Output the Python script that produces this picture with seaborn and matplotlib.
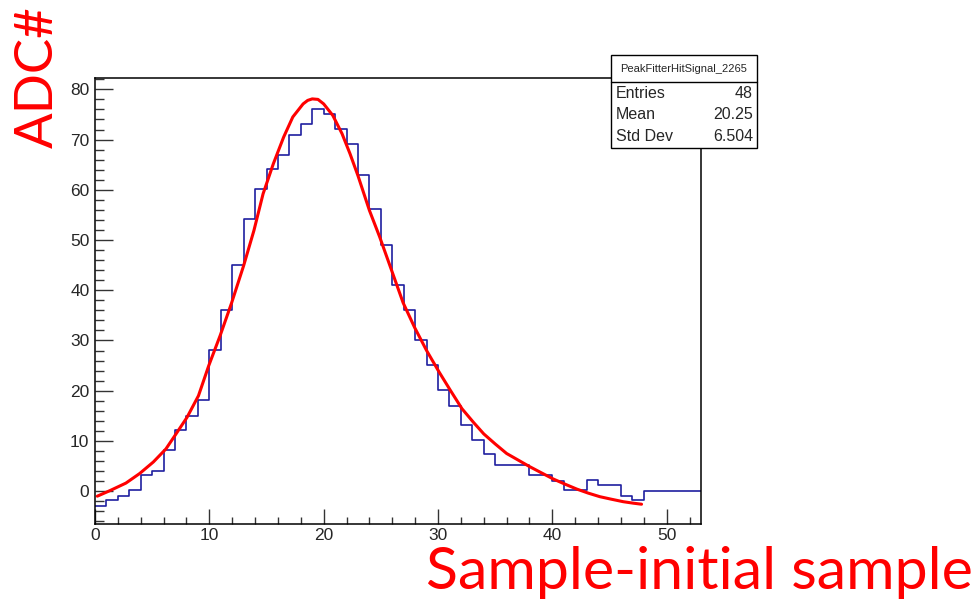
import matplotlib
matplotlib.use('Agg')

import numpy as np
import pandas as pd
import seaborn as sns
import matplotlib.pyplot as plt
from matplotlib.patches import Rectangle
from matplotlib.ticker import MultipleLocator

# histogram: one value per unit bin, starting at 0
bin_counts = [-2.9, -1.75, -0.9, 0.2, 3.2, 4.1, 8.1, 12.1, 15.0, 18.2,
              28.1, 36.1, 45.1, 54.1, 60.1, 64.1, 67.0, 71.0, 73.1, 76.0,
              75.1, 72.1, 69.2, 63.0, 56.1, 49.1, 41.1, 36.1, 30.1, 25.1,
              20.2, 17.0, 13.2, 10.1, 7.3, 5.2, 5.2, 5.2, 3.2, 3.2,
              2.1, 0.2, 0.2, 2.2, 1.2, 1.2, -0.9, -1.75, 0, 0,
              0, 0, 0]

# fitted curve
fit_x = [0.2, 1.3, 2.7, 3.9, 5.1, 6.2, 7.0, 8.05, 9.05, 9.95,
         10.95, 11.95, 13.0, 13.9, 14.7, 15.6, 16.5, 17.3, 18.2, 18.6,
         19.0, 19.5, 20.0, 20.8, 21.6, 22.3, 23.0, 24.0, 24.9, 25.95,
         26.95, 27.95, 29.0, 30.1, 31.1, 32.1, 33.1, 34.0, 35.0, 36.0,
         37.0, 38.0, 39.0, 40.1, 41.1, 42.15, 43.15, 44.15, 45.15, 46.2,
         47.1, 47.8]
fit_y = [-1.0, 0.1, 1.6, 3.5, 5.8, 8.4, 11.1, 14.7, 19.0, 25.0,
         31.0, 37.5, 44.9, 51.9, 59.2, 65.2, 70.5, 74.5, 77.1, 77.8,
         78.1, 78.0, 77.1, 74.8, 71.2, 67.2, 62.8, 55.9, 50.6, 43.9,
         37.5, 32.6, 28.0, 23.7, 20.0, 16.4, 13.7, 11.4, 9.4, 7.5,
         6.2, 4.9, 3.7, 2.4, 1.4, 0.4, -0.4, -1.1, -1.6, -2.1,
         -2.4, -2.6]

hist_name = "PeakFitterHitSignal_2265"
stats_rows = [("Entries", "48"), ("Mean", "20.25"), ("Std Dev", "6.504")]

sns.set_style('ticks')
plt.rcParams['font.family'] = ['Liberation Sans', 'DejaVu Sans']

W, H = 975, 599
fig = plt.figure(figsize=(W / 100, H / 100), dpi=100)
ax = fig.add_axes([95 / W, 1 - 524.3 / H, (701 - 95) / W, (524.3 - 78.3) / H])

hist_df = pd.DataFrame({'sample': np.arange(len(bin_counts)) + 0.5, 'adc': bin_counts})
sns.histplot(data=hist_df, x='sample', weights='adc', binwidth=1, binrange=(0, len(bin_counts)),
             element='step', fill=False, color='#1f1fa0', linewidth=1.2, ax=ax)
sns.lineplot(x=fit_x, y=fit_y, sort=False, color='#ff0000', linewidth=2.2, ax=ax)

ax.set_xlim(0, 53)
ax.set_ylim(-6.6, 82.2)
ax.set_xlabel('')
ax.set_ylabel('')
ax.xaxis.set_major_locator(MultipleLocator(10))
ax.xaxis.set_minor_locator(MultipleLocator(2))
ax.yaxis.set_major_locator(MultipleLocator(10))
ax.yaxis.set_minor_locator(MultipleLocator(2))
ax.tick_params(axis='y', which='major', direction='in', length=13, width=1, labelsize=12.5, pad=4, color='#333333')
ax.tick_params(axis='y', which='minor', direction='in', length=6.5, width=1, color='#333333')
ax.tick_params(axis='x', which='major', direction='in', length=11, width=1, labelsize=12.5, pad=3, color='#333333')
ax.tick_params(axis='x', which='minor', direction='in', length=5, width=1, color='#333333')
for s in ax.spines.values():
    s.set_linewidth(1.1)
    s.set_color('black')

# stats box drawn over the frame
bx0, bx1, by0, by1, bsep = 611, 757, 55, 148.3, 81.7
fig.patches.append(Rectangle((bx0 / W, 1 - by1 / H), (bx1 - bx0) / W, (by1 - by0) / H,
                             transform=fig.transFigure, facecolor='white',
                             edgecolor='black', linewidth=1, zorder=5))
fig.add_artist(plt.Line2D([bx0 / W, bx1 / W], [1 - bsep / H, 1 - bsep / H],
                          transform=fig.transFigure, color='black', linewidth=1, zorder=6))
fig.text((bx0 + bx1) / 2 / W, 1 - 69 / H, hist_name, ha='center', va='center',
         fontsize=8, zorder=7)
for i, (k, v) in enumerate(stats_rows):
    yy = 1 - (93.3 + 21.5 * i) / H
    fig.text(616 / W, yy, k, ha='left', va='center', fontsize=11.5, zorder=7)
    fig.text(753 / W, yy, v, ha='right', va='center', fontsize=11.5, zorder=7)

# big red annotations
fig.text(38 / W, 1 - 77 / H, 'ADC#', rotation=90, color='red', fontsize=38,
         family=['Lato', 'DejaVu Sans'], ha='center', va='center')
fig.text(973 / W, 1 - 589 / H, 'Sample-initial sample', color='red', fontsize=42.5,
         family=['Lato', 'DejaVu Sans'], ha='right', va='baseline')

fig.savefig('out.png', dpi=100)
plt.close(fig)
